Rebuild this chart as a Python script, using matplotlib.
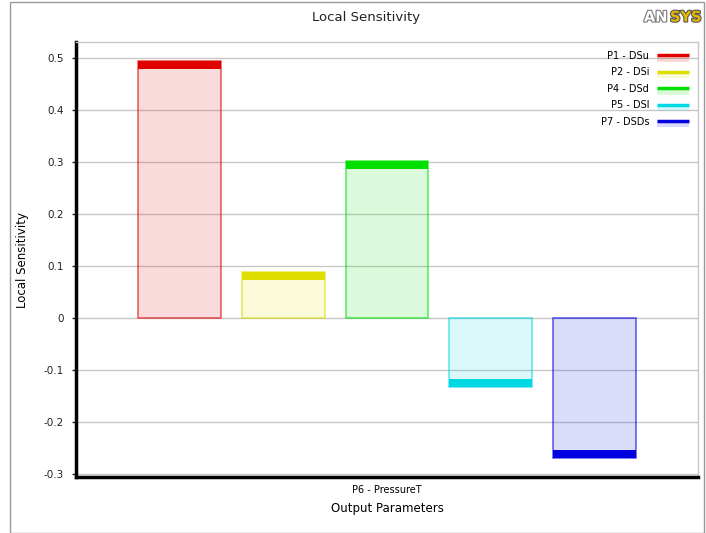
import numpy as np
import matplotlib.pyplot as plt
from matplotlib.patches import Rectangle
from matplotlib.lines import Line2D
from matplotlib.legend_handler import HandlerBase
import matplotlib.patheffects as pe

# Sensitivity values of P6 - PressureT to each input parameter
inputs = ['P1 - DSu', 'P2 - DSi', 'P4 - DSd', 'P5 - DSl', 'P7 - DSDs']
sensitivity = [0.494, 0.0885, 0.302, -0.1325, -0.269]
colors = ['#e00000', '#dede00', '#00e000', '#00d8e4', '#0000e0']
output_name = 'P6 - PressureT'
yticks = [-0.3, -0.2, -0.1, 0, 0.1, 0.2, 0.3, 0.4, 0.5]
ytick_labels = ['-0.3', '-0.2', '-0.1', '0', '0.1', '0.2', '0.3', '0.4', '0.5']

plt.rcParams['font.family'] = 'DejaVu Sans'


class CapHandler(HandlerBase):
    """Thick coloured line with a pale band just below it."""
    def create_artists(self, legend, orig_handle, xdescent, ydescent,
                       width, height, fontsize, trans):
        c = orig_handle.get_color()
        mid = height / 2 - ydescent
        pale = Rectangle((-xdescent, mid - 4.5), width, 4.5, facecolor=c,
                         alpha=0.15, edgecolor='none', transform=trans)
        line = Line2D([-xdescent, width - xdescent], [mid, mid], color=c,
                      linewidth=2.5, solid_capstyle='butt', transform=trans)
        return [pale, line]


fig = plt.figure(figsize=(7.06, 5.33), dpi=100)
ax = fig.add_axes([76 / 706, 1 - 477 / 533, (698 - 76) / 706, (477 - 42) / 533])

x = np.arange(len(inputs))
width = 0.8
cap = 0.015
handles = []
for xi, v, c in zip(x, sensitivity, colors):
    # pale body with a semi transparent outline
    ax.bar(xi, v, width=width, color=c, alpha=0.14, zorder=2)
    ax.bar(xi, v, width=width, facecolor='none', edgecolor=c, alpha=0.6,
           linewidth=1.2, zorder=3)
    # solid cap at the end of the bar
    sgn = np.sign(v)
    ax.bar(xi, sgn * cap, bottom=v - sgn * cap, width=width, color=c,
           linewidth=0, zorder=4)
    handles.append(Line2D([], [], color=c))

ax.set_xlim(-1, 5)
ax.set_ylim(-0.306, 0.531)
ax.set_yticks(yticks)
ax.set_yticklabels(ytick_labels, fontsize=7.5)
ax.set_xticks([(len(inputs) - 1) / 2])
ax.set_xticklabels([output_name], fontsize=7)
ax.tick_params(axis='x', length=0, pad=6)
ax.tick_params(axis='y', length=3, width=1, direction='out', pad=6, colors='#222222')
ax.yaxis.grid(True, color='#c8c8c8', linewidth=1)
ax.set_axisbelow(True)

for side in ['left', 'bottom']:
    ax.spines[side].set_linewidth(2.5)
    ax.spines[side].set_color('black')
for side in ['top', 'right']:
    ax.spines[side].set_linewidth(1)
    ax.spines[side].set_color('#c8c8c8')

ax.set_ylabel('Local Sensitivity', fontsize=8.5, labelpad=10)
ax.set_xlabel('Output Parameters', fontsize=8.5, labelpad=5)

ax.legend(handles, inputs, loc='upper right', frameon=False,
          markerfirst=False, fontsize=7, handlelength=3.3,
          handler_map={Line2D: CapHandler()},
          labelspacing=0.66, borderaxespad=0.6, borderpad=0.0,
          handletextpad=0.8, bbox_to_anchor=(0.995, 0.993))

fig.text(366 / 706, 1 - 17 / 533, 'Local Sensitivity', ha='center', va='center',
         fontsize=9.5, color='#222222')

# outer frame of the chart panel
fig.patches.append(Rectangle((10 / 706, 0), 694 / 706, 531 / 533,
                             transform=fig.transFigure, fill=False,
                             edgecolor='#999999', linewidth=1))

# logo in the top right corner
logo_an = fig.text(644 / 706, 1 - 17 / 533, 'AN', fontsize=10.5, fontweight='bold',
                   color='white', va='center', ha='left')
logo_an.set_path_effects([pe.Stroke(linewidth=1.6, foreground='#777777'), pe.Normal()])
logo_sys = fig.text(670 / 706, 1 - 17 / 533, 'SYS', fontsize=10.5, fontweight='bold',
                    color='#e8b800', va='center', ha='left')
logo_sys.set_path_effects([pe.Stroke(linewidth=1.6, foreground='#555555'), pe.Normal()])

fig.savefig('out.png', dpi=100)
